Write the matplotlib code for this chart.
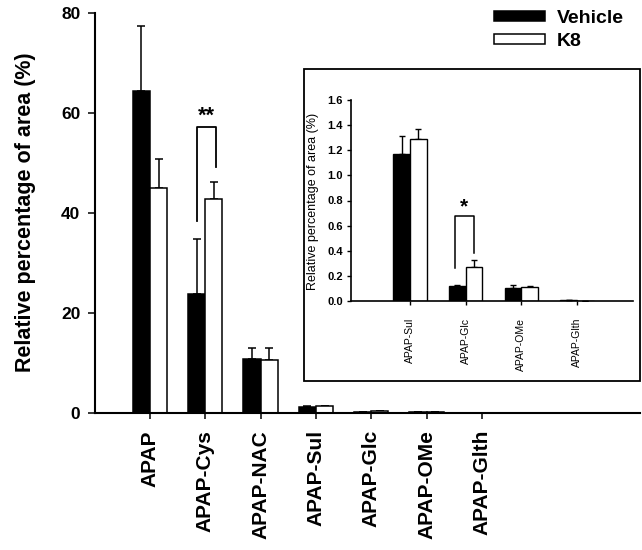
import numpy as np
import matplotlib
matplotlib.use("Agg")
import matplotlib.pyplot as plt
from matplotlib.patches import Patch, Rectangle

plt.rcParams['font.family'] = ['Liberation Sans', 'DejaVu Sans']

categories = ['APAP', 'APAP-Cys', 'APAP-NAC', 'APAP-Sul', 'APAP-Glc', 'APAP-OMe', 'APAP-Glth']
vehicle = [64.4, 23.7, 10.7, 1.17, 0.12, 0.105, 0.004]
vehicle_err = [13.0, 11.0, 2.3, 0.14, 0.01, 0.022, 0.0]
k8 = [44.9, 42.7, 10.5, 1.29, 0.27, 0.108, 0.002]
k8_err = [5.9, 3.5, 2.5, 0.08, 0.056, 0.01, 0.0]

# significance brackets: (left x, right x, left bottom, top, right bottom, label)
sig_main = (0.845, 1.19, 38.4, 57.1, 49.1, '**')
sig_inset = (0.80, 1.14, 0.26, 0.68, 0.385, '*')
inset_idx = [3, 4, 5, 6]

fig = plt.figure(figsize=(6.42, 5.5), dpi=100)

# main axes
ax = fig.add_axes([95 / 642, 1 - 412.7 / 550, 545 / 642, 400 / 550])
x = np.arange(len(categories))
w = 0.31
ax.bar(x - w / 2, vehicle, w, color='black', edgecolor='black', linewidth=1.1, zorder=2)
ax.bar(x + w / 2, k8, w, color='white', edgecolor='black', linewidth=1.1, zorder=2)
zeros = np.zeros(len(x))
ax.errorbar(x - w / 2, vehicle, yerr=[zeros, vehicle_err], fmt='none', ecolor='black',
            elinewidth=1.1, capsize=3, capthick=1.1, zorder=1)
ax.errorbar(x + w / 2, k8, yerr=[zeros, k8_err], fmt='none', ecolor='black',
            elinewidth=1.1, capsize=3, capthick=1.1, zorder=1)

xl, xr, yl, yt, yr, lab = sig_main
ax.plot([xl, xl, xr, xr], [yl, yt, yt, yr], color='black', lw=1.3, zorder=3)
ax.text((xl + xr) / 2, yt + 0.1, lab, ha='center', va='bottom', fontsize=15.5, fontweight='bold')

ax.set_xlim(-0.995, 8.86)
ax.set_ylim(0, 80)
ax.set_yticks([0, 20, 40, 60, 80])
ax.set_xticks(x)
ax.set_xticklabels(categories, rotation=90, fontsize=15, fontweight='bold')
for t in ax.get_yticklabels():
    t.set_fontsize(12.5)
    t.set_fontweight('bold')
ax.tick_params(axis='y', length=5, width=1.1, pad=5.5)
ax.tick_params(axis='x', length=4.5, width=1.1, pad=8)
for s in ['top', 'right']:
    ax.spines[s].set_visible(False)
for s in ['left', 'bottom']:
    ax.spines[s].set_linewidth(1.5)
fig.text(26 / 642, 1 - 212 / 550, 'Relative percentage of area (%)', rotation=90,
         ha='center', va='center', fontsize=15.5, fontweight='bold')

# legend
handles = [Patch(facecolor='black', edgecolor='black', linewidth=1.1),
           Patch(facecolor='white', edgecolor='black', linewidth=1.1)]
leg = fig.legend(handles, ['Vehicle', 'K8'], loc='upper left',
                 bbox_to_anchor=(494 / 642, 1 - 10 / 550), frameon=False,
                 prop={'weight': 'bold', 'size': 14}, handlelength=2.6, handleheight=0.4,
                 handletextpad=0.65, labelspacing=0.3, borderpad=0, borderaxespad=0)

# inset box
fig.patches.append(Rectangle((304 / 642, 1 - 381 / 550), 336 / 642, 312 / 550,
                             transform=fig.transFigure, fill=True, facecolor='white',
                             edgecolor='black', linewidth=1.3, zorder=5))

ins = fig.add_axes([350.7 / 642, 1 - 301 / 550, 282.3 / 642, 201 / 550], zorder=6)
ins.patch.set_alpha(0)
xi = np.arange(len(inset_idx))
wi = 0.30
vi = [vehicle[i] for i in inset_idx]
vie = [vehicle_err[i] for i in inset_idx]
ki = [k8[i] for i in inset_idx]
kie = [k8_err[i] for i in inset_idx]
zi = np.zeros(len(xi))
ins.bar(xi - wi / 2, vi, wi, color='black', edgecolor='black', linewidth=1.0, zorder=2)
ins.bar(xi + wi / 2, ki, wi, color='white', edgecolor='black', linewidth=1.0, zorder=2)
ins.errorbar(xi - wi / 2, vi, yerr=[zi, vie], fmt='none', ecolor='black',
             elinewidth=1.0, capsize=2.5, capthick=1.0, zorder=1)
ins.errorbar(xi + wi / 2, ki, yerr=[zi, kie], fmt='none', ecolor='black',
             elinewidth=1.0, capsize=2.5, capthick=1.0, zorder=1)

xl, xr, yl, yt, yr, lab = sig_inset
ins.plot([xl, xl, xr, xr], [yl, yt, yt, yr], color='black', lw=1.1, zorder=3)
ins.text((xl + xr) / 2, yt - 0.01, lab, ha='center', va='bottom', fontsize=15, fontweight='bold')

ins.set_xlim(-1.07, 4.01)
ins.set_ylim(0, 1.6)
ins.set_yticks(np.arange(0, 1.61, 0.2))
ins.set_yticklabels([f'{v:.1f}' for v in np.arange(0, 1.61, 0.2)], fontsize=8, fontweight='bold')
ins.set_xticks(xi)
ins.set_xticklabels([categories[i] for i in inset_idx], rotation=90, fontsize=7.5)
ins.tick_params(axis='y', length=3, width=1.0, pad=2.5)
ins.tick_params(axis='x', length=3, width=1.0, pad=9)
for s in ['top', 'right']:
    ins.spines[s].set_visible(False)
for s in ['left', 'bottom']:
    ins.spines[s].set_linewidth(1.2)
fig.text(313 / 642, 1 - 201 / 550, 'Relative percentage of area (%)', rotation=90,
         ha='center', va='center', fontsize=9, zorder=7)

fig.savefig('out.png', dpi=100)
